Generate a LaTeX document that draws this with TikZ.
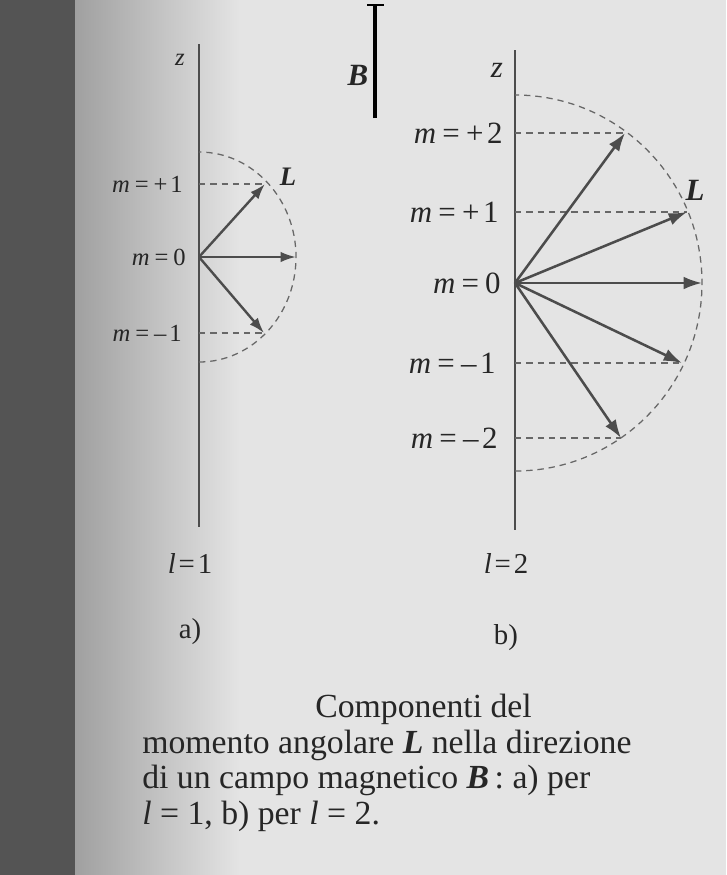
\documentclass[tikz,border=0pt]{standalone}
\usepackage{fontspec}
\setmainfont{Liberation Serif}
\usetikzlibrary{arrows.meta,positioning}

\definecolor{paper}{HTML}{E4E4E4}
\definecolor{paperdark}{HTML}{A0A0A0}
\definecolor{spine}{HTML}{545454}
\definecolor{ink}{HTML}{4C4C4C}

\newcommand{\mq}[1]{\textit{m}\kern.2em=\kern.2em#1}
\newcommand{\bvec}[1]{\textbf{\textit{#1}}}

\tikzset{
  axis/.style={draw=ink, line width=1.3pt},
  guide/.style={draw=ink!85, line width=0.9pt, dash pattern=on 4.5pt off 3.5pt},
  vec/.style={draw=ink, line width=1.7pt, -{Latex[length=11pt,width=7.5pt]}},
  vecB/.style={draw=ink, line width=1.8pt, -{Latex[length=13pt,width=9pt]}},
  labA/.style={font=\fontsize{17.5}{21}\selectfont, inner sep=0pt, text=black!85},
  labB/.style={font=\fontsize{22}{26}\selectfont, inner sep=0pt, text=black!85},
  captxt/.style={font=\fontsize{24}{28}\selectfont, inner sep=0pt, anchor=base west, text=black!85},
}

\begin{document}
\begin{tikzpicture}[x=0.025cm,y=-0.025cm]
\useasboundingbox (0,0) rectangle (726,875);
% page and spine
\fill[paper] (0,0) rectangle (726,875);
\shade[left color=paperdark, right color=paper] (75,0) rectangle (240,875);
\fill[spine] (0,0) rectangle (75,875);

% a) l=1
\path (199,257) coordinate (Oa);
\path (199,44) coordinate (za) (199,527) coordinate (zea);
\draw[axis] (za) -- (zea);
\draw[guide] (199,362) arc[start angle=90,end angle=-90,x radius=97,y radius=105];
\path (265,184) coordinate (Lap) (296,257) coordinate (La0) (264,333) coordinate (Lam);
\path (199,184) coordinate (zap) (199,333) coordinate (zam);
\draw[guide] (zap) -- (Lap);
\draw[guide] (zam) -- (Lam);
\draw[vec] (Oa) -- (Lap);
\draw[vec] (Oa) -- (La0);
\draw[vec] (Oa) -- (Lam);
\path (180,60) node[labA] (zlaba) {\textit{z}};
\path (183,184) node[labA,anchor=east] (map) {\mq{+\kern.12em1}};
\path (186,257) node[labA,anchor=east] (ma0) {\mq{0}};
\path (182,333) node[labA,anchor=east] (mam) {\mq{–\kern.12em1}};
\path (288,177) node[labA,font=\fontsize{19}{22}\selectfont] (Lla) {\bvec{L}};
\path (190,563) node[labB,font=\fontsize{20.5}{24}\selectfont] (lone) {\textit{l}\kern.1em=\kern.1em1};
\path node[labB,font=\fontsize{20.5}{24}\selectfont,below of=lone,node distance=1.72cm] (capa) {a)};

% b) l=2
\path (375,118) coordinate (Bfoot) (375,5) coordinate (Btop);
\path (367,5) coordinate (Btl) (384,5) coordinate (Btr);
\draw[black, line width=2.6pt] (Bfoot) -- (Btop);
\draw[black, line width=1.6pt] (Btl) -- (Btr);
\path (358,75) node[labB] (Blab) {\bvec{B}};

\path (515,283) coordinate (Ob);
\path (515,50) coordinate (zb) (515,530) coordinate (zeb);
\draw[axis] (zb) -- (zeb);
\draw[guide] (515,471) arc[start angle=90,end angle=-90,x radius=187,y radius=188];
\path (625,133) coordinate (Lbpp) (687,212) coordinate (Lbp)
      (702,283) coordinate (Lb0)
      (682,363) coordinate (Lbm) (621,438) coordinate (Lbmm);
\path (515,133) coordinate (zbpp) (515,212) coordinate (zbp)
      (515,363) coordinate (zbm) (515,438) coordinate (zbmm);
\draw[guide] (zbpp) -- (Lbpp);
\draw[guide] (zbp) -- (Lbp);
\draw[guide] (zbm) -- (Lbm);
\draw[guide] (zbmm) -- (Lbmm);
\draw[vecB] (Ob) -- (Lbpp);
\draw[vecB] (Ob) -- (Lbp);
\draw[vecB] (Ob) -- (Lb0);
\draw[vecB] (Ob) -- (Lbm);
\draw[vecB] (Ob) -- (Lbmm);
\path (497,70) node[labB] (zlabb) {\textit{z}};
\path (503,133) node[labB,anchor=east] (mbpp) {\mq{+\kern.12em2}};
\path (499,212) node[labB,anchor=east] (mbp) {\mq{+\kern.12em1}};
\path (501,283) node[labB,anchor=east] (mb0) {\mq{0}};
\path (496,363) node[labB,anchor=east] (mbm) {\mq{–\kern.12em1}};
\path (498,438) node[labB,anchor=east] (mbmm) {\mq{–\kern.12em2}};
\path (695,190) node[labB] (Llb) {\bvec{L}};
\path (506,563) node[labB,font=\fontsize{20.5}{24}\selectfont] (ltwo) {\textit{l}\kern.1em=\kern.1em2};
\path node[labB,font=\fontsize{20.5}{24}\selectfont,below of=ltwo,node distance=1.87cm] (capb) {b)};

% caption
\path (315,717) node[captxt] (cap1) {Componenti del};
\path (142,753) node[captxt] (cap2) {momento angolare \bvec{L} nella direzione};
\path (142,788) node[captxt] (cap3) {di un campo magnetico \bvec{B}\,: a) per};
\path (142,824) node[captxt] (cap4) {\textit{l} = 1, b) per \textit{l} = 2.};
\end{tikzpicture}
\end{document}
